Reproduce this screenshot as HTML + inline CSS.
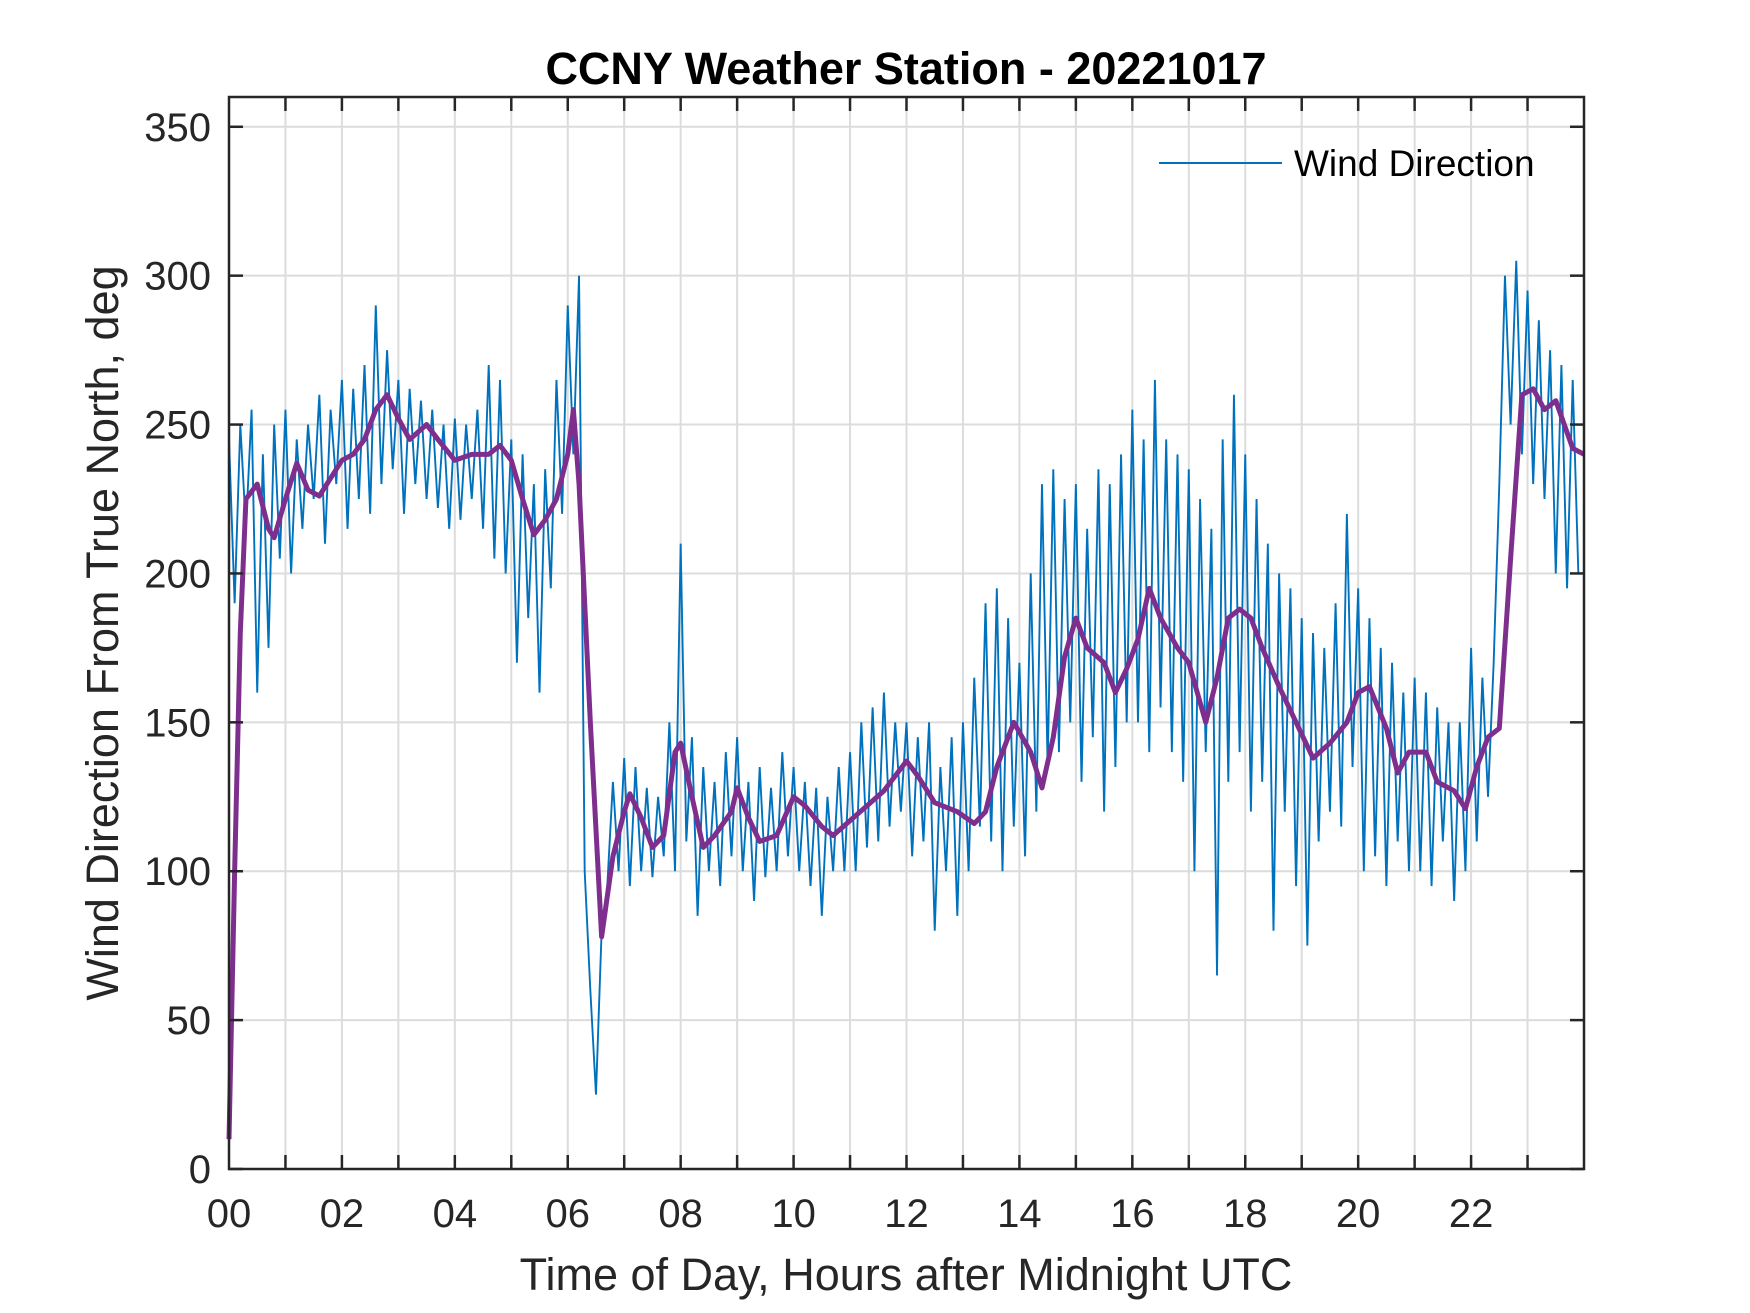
<!DOCTYPE html>
<html><head><meta charset="utf-8"><style>
html,body{margin:0;padding:0;background:#fff;}
svg{display:block;font-family:"Liberation Sans",Arial,sans-serif;}
</style></head><body>
<svg id="chart" width="1750" height="1313" viewBox="0 0 1750 1313" xmlns="http://www.w3.org/2000/svg">
<rect width="1750" height="1313" fill="#fff"/>
<g id="grid"></g>
<g id="series"></g>
<g id="axes"></g>
<text x="906" y="84" text-anchor="middle" font-size="45" font-weight="bold" fill="#000">CCNY Weather Station - 20221017</text>
<text x="906" y="1290" text-anchor="middle" font-size="45" fill="#262626">Time of Day, Hours after Midnight UTC</text>
<text transform="translate(118,633) rotate(-90)" text-anchor="middle" font-size="45" fill="#262626">Wind Direction From True North, deg</text>
<g>
<line x1="1159" y1="163" x2="1282" y2="163" stroke="#0072BD" stroke-width="2"/>
<text x="1294" y="176" font-size="37" fill="#000">Wind Direction</text>
</g>
</svg>
<script>
const xTicks = [0,2,4,6,8,10,12,14,16,18,20,22];
const yTicks = [0,50,100,150,200,250,300,350];
const rawStep = 0.1;
const rawValues = [
245,190,250,215,255,160,240,175,250,205,
255,200,245,215,250,225,260,210,255,230,
265,215,262,225,270,220,290,230,275,235,
265,220,262,230,258,225,255,222,250,215,
252,218,250,225,255,215,270,205,265,200,
245,170,240,185,230,160,235,195,265,220,
290,240,300,100,60,25,80,95,130,100,
138,95,135,100,128,98,125,105,150,100,
210,110,145,85,135,100,130,95,140,105,
145,100,130,90,135,98,128,100,140,105,
135,100,130,95,128,85,125,100,135,100,
140,100,150,108,155,110,160,115,150,120,
150,105,145,110,150,80,135,100,145,85,
150,100,165,115,190,110,195,100,185,115,
170,105,200,120,230,135,235,140,225,150,
230,130,215,145,235,120,230,135,240,150,
255,150,245,140,265,155,245,140,240,130,
235,100,225,140,215,65,245,130,260,140,
240,120,225,130,210,80,200,120,195,95,
185,75,180,110,175,120,190,115,220,135,
195,100,185,105,175,95,170,110,160,100,
165,100,160,95,155,110,150,90,150,100,
175,110,165,125,170,230,300,250,305,240,
295,230,285,225,275,200,270,195,265,200];
const smoothTimes = [0,0.1,0.2,0.3,0.5,0.7,0.8,1.0,1.2,1.4,1.6,1.8,2.0,2.2,2.4,2.6,2.8,3.0,3.2,3.5,3.7,4.0,4.3,4.6,4.8,5.0,5.2,5.4,5.6,5.8,6.0,6.1,6.2,6.4,6.6,6.8,7.0,7.1,7.3,7.5,7.7,7.9,8.0,8.2,8.4,8.6,8.9,9.0,9.2,9.4,9.7,10.0,10.2,10.5,10.7,11.0,11.3,11.6,12.0,12.2,12.5,12.9,13.2,13.4,13.6,13.9,14.2,14.4,14.6,14.8,15.0,15.2,15.5,15.7,15.9,16.1,16.3,16.5,16.8,17.0,17.3,17.5,17.7,17.9,18.1,18.3,18.6,18.9,19.2,19.5,19.8,20.0,20.2,20.5,20.7,20.9,21.2,21.4,21.7,21.9,22.1,22.3,22.5,22.7,22.9,23.1,23.3,23.5,23.8,24];
const smoothValues = [10,100,180,225,230,215,212,225,237,228,226,232,238,240,245,255,260,252,245,250,245,238,240,240,243,238,225,213,218,225,240,255,230,150,78,105,120,126,118,108,112,140,143,125,108,112,120,128,118,110,112,125,122,115,112,117,122,127,137,132,123,120,116,120,135,150,140,128,145,172,185,175,170,160,168,178,195,185,175,170,150,165,185,188,185,175,162,150,138,143,150,160,162,148,133,140,140,130,127,121,135,145,148,205,260,262,255,258,242,240];

const L=229,R=1584,T=97,B=1169;
const xs = h => L + (R-L)*h/24;
const ys = v => B - (B-T)*v/360;
const NS="http://www.w3.org/2000/svg";
function mk(tag, parent, attrs){const e=document.createElementNS(NS,tag);for(const k in attrs)e.setAttribute(k,attrs[k]);parent.appendChild(e);return e;}
const grid=document.getElementById('grid'), axes=document.getElementById('axes'), series=document.getElementById('series');

for(let h=1;h<24;h++){
  const g=mk('line',grid,{x1:xs(h),x2:xs(h),y1:T,y2:B,stroke:'#dcdcdc','stroke-width':2});
  
  
  const t1=mk('line',axes,{x1:xs(h),x2:xs(h),y1:B,y2:B-14,stroke:'#262626','stroke-width':2.5});
  
  
  const t2=mk('line',axes,{x1:xs(h),x2:xs(h),y1:T,y2:T+14,stroke:'#262626','stroke-width':2.5});
  
  
}
xTicks.forEach(h=>{
  const t=mk('text',axes,{x:xs(h),y:1227,'text-anchor':'middle','font-size':40,fill:'#262626'});
  t.textContent=String(h).padStart(2,'0');
  
  
});
yTicks.forEach(v=>{
  if(v>0){
    const g=mk('line',grid,{x1:L,x2:R,y1:ys(v),y2:ys(v),stroke:'#dcdcdc','stroke-width':2});
    
    
  }
  const a=mk('line',axes,{x1:L,x2:L+14,y1:ys(v),y2:ys(v),stroke:'#262626','stroke-width':2.5});
  
  
  const b=mk('line',axes,{x1:R,x2:R-14,y1:ys(v),y2:ys(v),stroke:'#262626','stroke-width':2.5});
  
  
  const t=mk('text',axes,{x:211,y:ys(v)+14,'text-anchor':'end','font-size':40,fill:'#262626'});
  t.textContent=v;
  
  
});
const frame=mk('rect',axes,{x:L,y:T,width:R-L,height:B-T,fill:'none',stroke:'#262626','stroke-width':2.5});



const raw=mk('polyline',series,{fill:'none',stroke:'#0072BD','stroke-width':1.9,'stroke-linejoin':'miter',
  points:rawValues.map((v,i)=>xs(i*rawStep)+','+ys(v)).join(' ')});


const sm=mk('polyline',series,{fill:'none',stroke:'#7E2F8E','stroke-width':5,'stroke-linejoin':'round',
  points:smoothValues.map((v,i)=>xs(smoothTimes[i])+','+ys(v)).join(' ')});


</script>
</body></html>
